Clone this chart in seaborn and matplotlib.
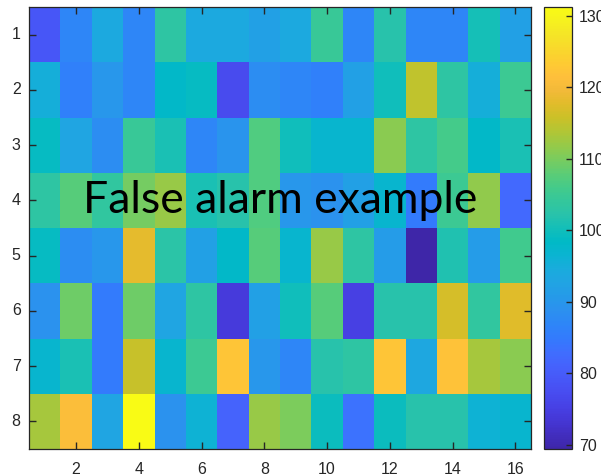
import numpy as np
import pandas as pd
import matplotlib
matplotlib.use("Agg")
import matplotlib.pyplot as plt
import seaborn as sns
from matplotlib.colors import LinearSegmentedColormap

# Grid labels
row_labels = [1, 2, 3, 4, 5, 6, 7, 8]
col_labels = list(range(1, 17))

# Cell values, one list per row
row1 = [79, 87, 94, 87, 103, 94, 94, 92, 94, 104.5, 87, 102, 87, 87, 100.5, 92]
row2 = [95, 86, 90, 87, 98, 99, 77, 88, 87, 86, 92, 100, 115, 103, 95, 105]
row3 = [99, 93, 88, 104.5, 101, 87, 89.5, 107, 100, 97, 97, 111, 103, 106, 98, 101]
row4 = [103, 107.5, 103.5, 109.5, 112, 101, 102, 107, 90, 89, 92, 97, 85, 105, 111.5, 82]
row5 = [99, 88, 90, 118, 102.5, 92, 98, 107.5, 97, 112, 103, 91, 69.4, 101.5, 91, 105.5]
row6 = [89, 109, 85, 109, 93, 103, 74, 92, 100, 107.5, 75, 102, 102, 116.5, 103.5, 117.5]
row7 = [97, 101, 85, 115.5, 97, 105, 122.5, 90, 87, 102, 103, 122.5, 93.5, 122, 113, 111]
row8 = [113, 121, 93, 131.2, 89, 96, 81, 112, 110, 99.5, 83.5, 99.5, 102, 102, 96, 97]

x_ticks = [2, 4, 6, 8, 10, 12, 14, 16]
cbar_ticks = [70, 80, 90, 100, 110, 120, 130]
title_text = "False alarm example"

# Parula-style colormap anchors
parula_anchors = [
    (0.2422, 0.1504, 0.6603), (0.2576, 0.1814, 0.7501), (0.2704, 0.2138, 0.8346),
    (0.2781, 0.2543, 0.8973), (0.2813, 0.2985, 0.9397), (0.2798, 0.3421, 0.9702),
    (0.2710, 0.3860, 0.9898), (0.2473, 0.4319, 0.9983), (0.2006, 0.4803, 0.9906),
    (0.1795, 0.5244, 0.9709), (0.1716, 0.5655, 0.9393), (0.1475, 0.6043, 0.9113),
    (0.1288, 0.6408, 0.8910), (0.1009, 0.6750, 0.8653), (0.0433, 0.7039, 0.8242),
    (0.0018, 0.7275, 0.7752), (0.0770, 0.7468, 0.7224), (0.1609, 0.7635, 0.6671),
    (0.2061, 0.7808, 0.6065), (0.2695, 0.7951, 0.5360), (0.3671, 0.8021, 0.4563),
    (0.4753, 0.8011, 0.3691), (0.5886, 0.7913, 0.2833), (0.6963, 0.7750, 0.2075),
    (0.7945, 0.7554, 0.1570), (0.8804, 0.7372, 0.1650), (0.9523, 0.7284, 0.2237),
    (0.9971, 0.7513, 0.2309), (0.9938, 0.7974, 0.1974), (0.9748, 0.8467, 0.1726),
    (0.9601, 0.8963, 0.1507), (0.9642, 0.9437, 0.1216), (0.9769, 0.9839, 0.0805),
]
parula = LinearSegmentedColormap.from_list("parula", parula_anchors, N=256)

data = pd.DataFrame([row1, row2, row3, row4, row5, row6, row7, row8],
                    index=row_labels, columns=col_labels)

axc = "#262626"
sns.set_theme(style="ticks", rc={
    "axes.axisbelow": False,
    "xtick.direction": "in", "ytick.direction": "in",
    "xtick.top": True, "ytick.right": True,
    "xtick.bottom": True, "ytick.left": True,
    "xtick.color": axc, "ytick.color": axc,
    "axes.edgecolor": axc, "axes.linewidth": 0.9,
})
plt.rcParams["font.family"] = ["Liberation Sans", "DejaVu Sans"]

fig = plt.figure(figsize=(6.01, 4.75), dpi=100)
ax = fig.add_axes([29 / 601, 26 / 475, 502 / 601, 442 / 475])
cax = fig.add_axes([544 / 601, 26 / 475, 28 / 601, 442 / 475])

sns.heatmap(data, ax=ax, cbar_ax=cax, cmap=parula, vmin=69.4, vmax=131.2,
            cbar_kws={"ticks": cbar_ticks})

# Axis ticks in MATLAB fashion: inward, on every side, drawn above the cells
ax.set_xticks([c - 0.5 for c in x_ticks])
ax.set_xticklabels([str(c) for c in x_ticks], rotation=0)
ax.set_yticks([r - 0.5 for r in row_labels])
ax.set_yticklabels([str(r) for r in row_labels], rotation=0)
ax.tick_params(direction="in", length=5, width=1.0, color=axc, labelcolor=axc,
               labelsize=11.5, top=True, right=True, bottom=True, left=True,
               labeltop=False, labelright=False)
ax.tick_params(axis="x", pad=9)
ax.tick_params(axis="y", pad=6)
ax.set_xlabel("")
ax.set_ylabel("")
for s in ax.spines.values():
    s.set_visible(True)
    s.set_zorder(5)
ax.xaxis.set_zorder(6)
ax.yaxis.set_zorder(6)

cbar = ax.collections[0].colorbar
cbar.outline.set_visible(True)
cbar.outline.set_edgecolor(axc)
cbar.outline.set_linewidth(0.9)
cax.tick_params(direction="in", length=4, width=1.0, color=axc, labelcolor=axc,
                labelsize=11.5, pad=5, right=True, left=False)
cax.yaxis.set_zorder(6)

ax.text(8.0, 3.5, title_text, ha="center", va="center", fontsize=32,
        family=["Lato", "DejaVu Sans"], color="black", zorder=7)

fig.savefig("out.png", dpi=100)
